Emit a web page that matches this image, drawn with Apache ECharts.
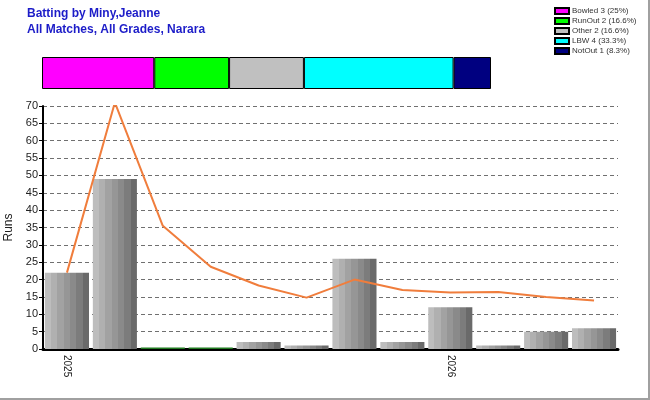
<!DOCTYPE html>
<html>
<head>
<meta charset="utf-8">
<script src="https://cdn.jsdelivr.net/npm/echarts@6/dist/echarts.min.js"></script>
<style>
  html, body { margin: 0; padding: 0; background: #fff; }
  #chart { width: 648px; height: 398px; border-right: 2px solid #a0a0a0; border-bottom: 2px solid #a0a0a0; }
</style>
</head>
<body>
<div id="chart"></div>
<script>
// innings, in order
const matchLabels = ["2025", "", "", "", "", "", "", "", "2026", "", "", ""];
const runs = [22, 49, 0, 0, 2, 1, 26, 2, 12, 1, 5, 6];
const average = [22, 71, 35.5, 23.7, 18.3, 14.8, 20, 17, 16.3, 16.4, 15, 14];

// how out
const dismissals = ["Bowled 3 (25%)", "RunOut 2 (16.6%)", "Other 2 (16.6%)", "LBW 4 (33.3%)", "NotOut 1 (8.3%)"];
const dismissalCounts = [3, 2, 2, 4, 1];
const dismissalColors = ["#ff00ff", "#00ff00", "#c0c0c0", "#00ffff", "#000080"];

const yTicks = { min: 0, max: 70, interval: 5 };

const chart = echarts.init(document.getElementById("chart"));

// stepped grey shading like the original bars
const barFill = new echarts.graphic.LinearGradient(0, 0, 1, 0, [
  { offset: 0, color: "#bdbdbd" }, { offset: 0.14, color: "#bdbdbd" },
  { offset: 0.14, color: "#b0b0b0" }, { offset: 0.28, color: "#b0b0b0" },
  { offset: 0.28, color: "#a2a2a2" }, { offset: 0.43, color: "#a2a2a2" },
  { offset: 0.43, color: "#969696" }, { offset: 0.57, color: "#969696" },
  { offset: 0.57, color: "#8a8a8a" }, { offset: 0.71, color: "#8a8a8a" },
  { offset: 0.71, color: "#7c7c7c" }, { offset: 0.86, color: "#7c7c7c" },
  { offset: 0.86, color: "#6a6a6a" }, { offset: 1, color: "#6a6a6a" }
]);

const dismissalSeries = dismissals.map((name, i) => ({
  name: name,
  type: "bar",
  stack: "out",
  xAxisIndex: 1,
  yAxisIndex: 1,
  barWidth: "100%",
  data: [dismissalCounts[i]],
  itemStyle: { color: dismissalColors[i], borderColor: "#000", borderWidth: 1 },
  silent: true
}));

chart.setOption({
  animation: false,
  backgroundColor: "#fff",
  textStyle: { fontFamily: "Arial, 'Liberation Sans', sans-serif" },
  title: {
    text: "Batting by Miny,Jeanne\nAll Matches, All Grades, Narara",
    left: 22,
    top: 1,
    textStyle: { color: "#1c1cc8", fontSize: 12, fontWeight: "bold", lineHeight: 16 }
  },
  legend: {
    data: dismissals,
    orient: "vertical",
    left: 549,
    top: 1,
    itemWidth: 14,
    itemHeight: 6,
    itemGap: 0,
    icon: "rect",
    textStyle: { fontSize: 8, color: "#333", padding: [0, 0, 0, -2], lineHeight: 10 },
    selectedMode: false
  },
  grid: [
    { left: 43, right: 30, top: 106, bottom: 49, containLabel: false, outerBoundsMode: "none" },
    { left: 42, width: 449, top: 57, height: 32, containLabel: false, outerBoundsMode: "none" }
  ],
  xAxis: [
    {
      type: "category",
      gridIndex: 0,
      data: matchLabels,
      boundaryGap: true,
      axisLine: { lineStyle: { color: "#000", width: 3 } },
      axisTick: { alignWithLabel: true, interval: 0, length: 4, lineStyle: { color: "#555" } },
      axisLabel: { interval: 0, rotate: -90, color: "#222", fontSize: 10, margin: 6 }
    },
    {
      type: "value",
      gridIndex: 1,
      min: 0,
      max: 12,
      show: false
    }
  ],
  yAxis: [
    {
      type: "value",
      gridIndex: 0,
      min: yTicks.min,
      max: yTicks.max,
      interval: yTicks.interval,
      name: "Runs",
      nameLocation: "middle",
      nameGap: 6,
      nameTextStyle: { color: "#222", fontSize: 12 },
      axisLine: { show: true, lineStyle: { color: "#000", width: 2 } },
      axisTick: { show: true, length: 4, lineStyle: { color: "#000" } },
      axisLabel: { color: "#222", fontSize: 11, margin: 5 },
      splitLine: { lineStyle: { color: "#707070", type: [4, 3] } }
    },
    {
      type: "category",
      gridIndex: 1,
      data: ["out"],
      show: false
    }
  ],
  series: [
    {
      name: "Runs",
      type: "bar",
      xAxisIndex: 0,
      yAxisIndex: 0,
      barCategoryGap: "8%",
      barMinHeight: 1.5,
      data: runs.map(v => v === 0
        ? { value: v, itemStyle: { color: "#207a20" } }
        : v),
      itemStyle: { color: barFill },
      silent: true
    },
    {
      name: "Average",
      type: "line",
      xAxisIndex: 0,
      yAxisIndex: 0,
      data: average,
      symbol: "none",
      lineStyle: { color: "#f07d3c", width: 2 },
      z: 5,
      silent: true
    },
    ...dismissalSeries
  ]
});
</script>
</body>
</html>
